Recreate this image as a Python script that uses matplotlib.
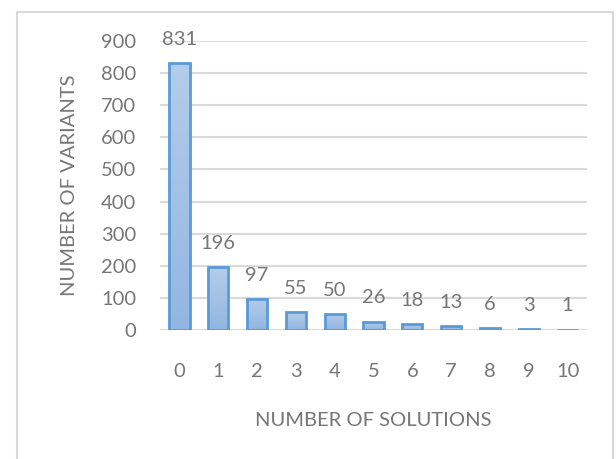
import matplotlib.pyplot as plt
import numpy as np
from matplotlib.patches import Rectangle
from matplotlib.colors import LinearSegmentedColormap

# data
solutions = ['0', '1', '2', '3', '4', '5', '6', '7', '8', '9', '10']
variants = [831, 196, 97, 55, 50, 26, 18, 13, 6, 3, 1]
yticks = [0, 100, 200, 300, 400, 500, 600, 700, 800, 900]

plt.rcParams['font.family'] = ['Lato', 'DejaVu Sans']
txt = '#767676'

fig = plt.figure(figsize=(6.16, 4.59), dpi=100)
ax = fig.add_axes([160/616, 1 - 330/459, 427/616, 289/459])

# light frame around the chart area
fig.patches.append(Rectangle((17/616, -0.1), (613 - 17)/616, 1.1 - 12/459,
                             transform=fig.transFigure, fill=False,
                             edgecolor='#d9d9d9', linewidth=1.5))

x = np.arange(len(solutions))
bars = ax.bar(x, variants, width=0.52, color='none', edgecolor='#5b9bd5',
              linewidth=2.0, zorder=3)

# vertical gradient inside each bar
cmap = LinearSegmentedColormap.from_list('grad', ['#92b6e1', '#b3cdea'])
grad = np.linspace(0, 1, 100).reshape(-1, 1)
for b in bars:
    im = ax.imshow(grad, cmap=cmap, origin='lower', aspect='auto',
                   extent=[b.get_x(), b.get_x() + b.get_width(), 0, b.get_height()],
                   zorder=2)
    im.set_clip_path(b)

for xi, v in zip(x, variants):
    ax.annotate(str(v), (xi, v), xytext=(0, 11), textcoords='offset points',
                ha='center', va='bottom', fontsize=14.5, color=txt)

ax.set_xlim(-0.5, len(solutions) - 0.5)
ax.set_ylim(0, 900)
ax.set_yticks(yticks)
ax.set_xticks(x)
ax.set_xticklabels(solutions)
ax.grid(axis='y', color='#d9d9d9', linewidth=1.5, zorder=0)
ax.set_axisbelow(True)
for s in ax.spines.values():
    s.set_visible(False)
ax.tick_params(length=0, labelsize=14.5, labelcolor=txt)
ax.tick_params(axis='y', pad=17)
ax.tick_params(axis='x', pad=24)

ax.set_xlabel('NUMBER OF SOLUTIONS', fontsize=14.5, color=txt, labelpad=23)
ax.set_ylabel('NUMBER OF VARIANTS', fontsize=14.5, color=txt, labelpad=17)

fig.savefig('out.png', dpi=100)
